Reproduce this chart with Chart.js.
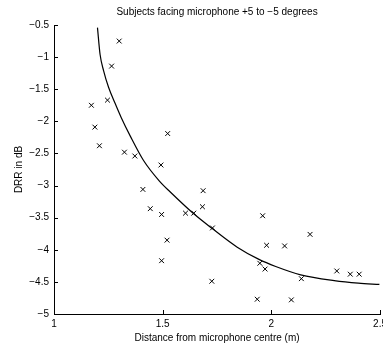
<!DOCTYPE html>
<html>
<head>
<meta charset="utf-8">
<script src="https://cdn.jsdelivr.net/npm/chart.js@4.4.1/dist/chart.umd.min.js"></script>
<style>
  html, body { margin: 0; padding: 0; background: #fff; overflow: hidden; }
</style>
</head>
<body>
<canvas id="drrChart" width="391" height="347"></canvas>
<script>
// measured subjects: distance (m) and DRR (dB)
const distX = [1.30, 1.265, 1.246, 1.172, 1.188, 1.209, 1.324, 1.372, 1.523, 1.492, 1.409,
    1.686, 1.443, 1.495, 1.605, 1.643, 1.683, 1.96, 1.729, 1.52, 1.495, 1.726, 1.978,
    2.061, 2.178, 1.947, 1.971, 2.138, 1.935, 2.092, 2.301, 2.363, 2.404];
const drrY = [-0.75, -1.14, -1.67, -1.75, -2.09, -2.38, -2.48, -2.54, -2.19, -2.68, -3.06,
    -3.08, -3.36, -3.45, -3.43, -3.43, -3.33, -3.47, -3.66, -3.85, -4.17, -4.49, -3.93,
    -3.94, -3.76, -4.21, -4.30, -4.45, -4.77, -4.78, -4.33, -4.38, -4.38];

// fitted curve
const fitX = [1.20, 1.212, 1.228, 1.251, 1.281, 1.309, 1.351, 1.412, 1.485, 1.535, 1.643,
    1.728, 1.843, 1.943, 2.02, 2.135, 2.289, 2.40, 2.497];
const fitY = [-0.54, -0.96, -1.21, -1.47, -1.72, -1.94, -2.23, -2.61, -2.93, -3.10, -3.44,
    -3.67, -3.96, -4.15, -4.26, -4.39, -4.48, -4.52, -4.54];

const xTickLabels = ['1', '1.5', '2', '2.5'];
const yTickLabels = ['\u22125', '\u22124.5', '\u22124', '\u22123.5', '\u22123', '\u22122.5',
    '\u22122', '\u22121.5', '\u22121', '\u22120.5'];

const tickFont = { family: 'Liberation Sans', size: 10 };

// small ticks pointing into the plot, like the original
const innerTicks = {
    id: 'innerTicks',
    afterDraw(chart) {
        const c = chart.ctx;
        const xs = chart.scales.x, ys = chart.scales.y;
        c.save();
        c.strokeStyle = '#000';
        c.lineWidth = 1;
        c.beginPath();
        xs.ticks.forEach(t => {
            const px = Math.round(xs.getPixelForValue(t.value)) + 0.5;
            c.moveTo(px, xs.top);
            c.lineTo(px, xs.top - 4);
        });
        ys.ticks.forEach(t => {
            const py = Math.round(ys.getPixelForValue(t.value)) + 0.5;
            c.moveTo(ys.right, py);
            c.lineTo(ys.right + 4, py);
        });
        c.stroke();
        c.restore();
    }
};

const ctx = document.getElementById('drrChart').getContext('2d');
const drrChart = new Chart(ctx, {
    type: 'scatter',
    data: {
        datasets: [{
            label: 'Subjects',
            data: distX.map((x, i) => ({ x: x, y: drrY[i] })),
            pointStyle: 'crossRot',
            pointRadius: 3.4,
            borderColor: '#000',
            backgroundColor: '#000',
            borderWidth: 1
        }, {
            label: 'Fit',
            type: 'line',
            data: fitX.map((x, i) => ({ x: x, y: fitY[i] })),
            showLine: true,
            pointRadius: 0,
            borderColor: '#000',
            borderWidth: 1.2,
            cubicInterpolationMode: 'monotone',
            fill: false
        }]
    },
    options: {
        responsive: false,
        animation: false,
        layout: { padding: 0 },
        plugins: {
            legend: { display: false },
            tooltip: { enabled: false },
            title: {
                display: true,
                fullSize: false,
                text: 'Subjects facing microphone +5 to \u22125 degrees',
                color: '#000',
                font: { family: 'Liberation Sans', size: 10, weight: 'normal' },
                padding: { top: 6, bottom: 7 }
            }
        },
        scales: {
            x: {
                type: 'linear',
                min: 1,
                max: 2.5,
                grid: { drawOnChartArea: false, drawTicks: false },
                border: { color: '#000', width: 1 },
                ticks: {
                    stepSize: 0.5,
                    color: '#000',
                    font: tickFont,
                    padding: 4,
                    maxRotation: 0,
                    callback: (v, i) => xTickLabels[i]
                },
                title: {
                    display: true,
                    text: 'Distance from microphone centre (m)',
                    color: '#000',
                    font: tickFont,
                    padding: { top: 0, bottom: 2.5 }
                },
                afterFit: s => { s.height = 33; }
            },
            y: {
                type: 'linear',
                min: -5,
                max: -0.5,
                grid: { drawOnChartArea: false, drawTicks: false },
                border: { color: '#000', width: 1 },
                ticks: {
                    stepSize: 0.5,
                    color: '#000',
                    font: tickFont,
                    padding: 5,
                    callback: (v, i) => yTickLabels[i]
                },
                title: {
                    display: true,
                    text: 'DRR in dB',
                    color: '#000',
                    font: tickFont,
                    padding: { top: 13, bottom: 0 }
                },
                afterFit: s => { s.width = 54; }
            }
        }
    },
    plugins: [innerTicks]
});
</script>
</body>
</html>
